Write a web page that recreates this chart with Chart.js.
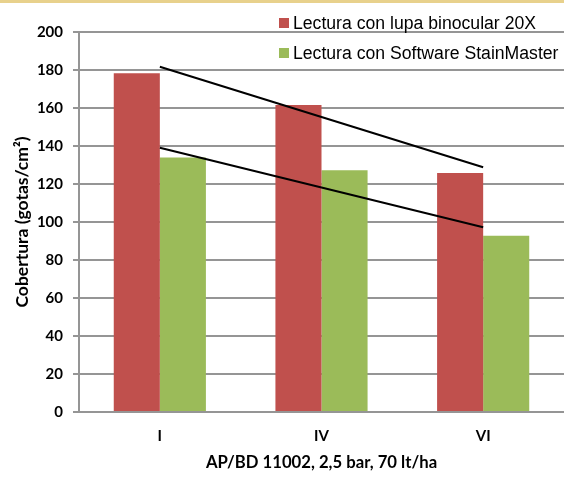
<!DOCTYPE html>
<html>
<head>
<meta charset="utf-8">
<script src="https://cdn.jsdelivr.net/npm/chart.js@4.4.0/dist/chart.umd.min.js"></script>
<style>
  html, body { margin: 0; padding: 0; background: #fff; }
  canvas { display: block; }
</style>
</head>
<body>
<canvas id="chart" width="564" height="477"></canvas>
<script>
/* chart data */
const categories = ['I', 'IV', 'VI'];
const lupaValues = [178.3, 161.6, 125.8];
const softwareValues = [134.0, 127.2, 92.8];
const lupaTrend = [181.7, 155.3, 128.8];
const softwareTrend = [139.1, 118.2, 97.2];
const yTicks = [0, 20, 40, 60, 80, 100, 120, 140, 160, 180, 200];

const RED = '#C0504D';
const GREEN = '#9BBB59';
const GRID = '#959595';
const BOLD = { family: 'Lato, "Open Sans", sans-serif', weight: 'bold', size: 15 };

/* background, top stripe and the two-row legend (narrow type) */
const decor = {
  id: 'decor',
  beforeDraw(chart) {
    const c = chart.ctx;
    c.save();
    c.fillStyle = '#fff';
    c.fillRect(0, 0, chart.width, chart.height);
    c.fillStyle = '#E8D18C';
    c.fillRect(0, 0, chart.width, 3);
    c.restore();
  },
  afterDraw(chart) {
    const c = chart.ctx;
    const rows = chart.data.datasets.filter(d => d.type !== 'line');
    c.save();
    c.font = '18px "Liberation Sans", Arial, sans-serif';
    c.textBaseline = 'middle';
    // squeeze the text so the first row is as wide as in the source
    const squeeze = 243 / c.measureText(rows[0].label).width;
    rows.forEach((d, i) => {
      const y = 23 + i * 30;
      c.fillStyle = d.backgroundColor;
      c.fillRect(279, y - 5, 10, 10);
      c.save();
      c.translate(293, y + 1);
      c.scale(squeeze, 1);
      c.fillStyle = '#000';
      c.fillText(d.label, 0, 0);
      c.restore();
    });
    c.restore();
  },
};

const ctx = document.getElementById('chart').getContext('2d');
new Chart(ctx, {
  type: 'bar',
  data: {
    labels: categories,
    datasets: [
      { type: 'line', label: 'trend 1', data: lupaTrend, borderColor: '#000', borderWidth: 2,
        pointRadius: 0, fill: false, order: 0 },
      { type: 'line', label: 'trend 2', data: softwareTrend, borderColor: '#000', borderWidth: 2,
        pointRadius: 0, fill: false, order: 0 },
      { label: 'Lectura con lupa binocular 20X', data: lupaValues, backgroundColor: RED, order: 1 },
      { label: 'Lectura con Software StainMaster', data: softwareValues, backgroundColor: GREEN, order: 1 },
    ],
  },
  options: {
    responsive: false,
    animation: false,
    devicePixelRatio: 1,
    layout: { padding: { top: 32, right: 0, bottom: 0, left: 0 } },
    datasets: { bar: { categoryPercentage: 0.57, barPercentage: 1.0 } },
    plugins: { legend: { display: false }, tooltip: { enabled: false } },
    scales: {
      x: {
        grid: { display: false, drawTicks: false, tickLength: 0 },
        border: { display: true, color: GRID, width: 2 },
        ticks: { color: '#000', font: BOLD, padding: 15 },
        title: { display: true, text: 'AP/BD 11002, 2,5 bar, 70 lt/ha', color: '#000',
                 font: { ...BOLD, size: 16.7 }, padding: { top: 0, bottom: 4 } },
        afterFit(scale) { scale.height = 65; },
      },
      y: {
        min: 0, max: 200,
        afterBuildTicks(scale) { scale.ticks = yTicks.map(v => ({ value: v })); },
        grid: { color: GRID, lineWidth: 2, tickLength: 6 },
        border: { display: true, color: GRID, width: 2 },
        ticks: { color: '#000', font: BOLD, padding: 10 },
        title: { display: true, text: 'Cobertura (gotas/cm²)', color: '#000',
                 font: { ...BOLD, size: 17.5 }, padding: { top: 12, bottom: 0 } },
        afterFit(scale) { scale.width = 79; },
      },
    },
  },
  plugins: [decor],
});
</script>
</body>
</html>
